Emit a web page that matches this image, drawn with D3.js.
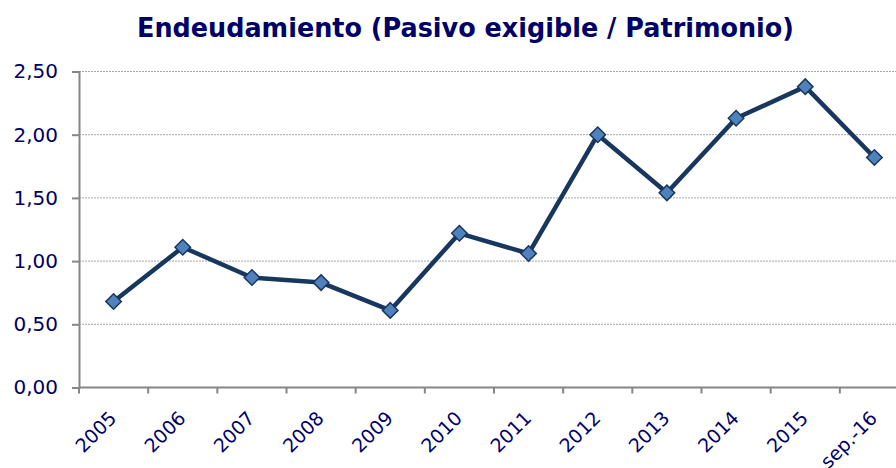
<!DOCTYPE html>
<html><head><meta charset="utf-8">
<script src="https://cdn.jsdelivr.net/npm/d3@7"></script>
<style>body{margin:0;background:#fff;} svg{display:block;}</style>
</head><body>
<svg id="c" width="896" height="468"></svg>
<script>
const categories = ["2005","2006","2007","2008","2009","2010","2011","2012","2013","2014","2015","sep.-16"];
const values = [0.68,1.11,0.87,0.83,0.61,1.22,1.06,2.00,1.54,2.13,2.38,1.82];
const yTicks = [0,0.5,1,1.5,2,2.5];
const title = "Endeudamiento (Pasivo exigible / Patrimonio)";

const svg = d3.select("#c");
const navy = "#000066";
const font = "DejaVu Sans, Verdana, sans-serif";
const x = d3.scaleBand().domain(categories).range([79, 909]);
const y = d3.scaleLinear().domain([0, 2.5]).range([387.5, 71.5]);
const fmt = v => d3.format(".2f")(v).replace(".", ",");

// gridlines
svg.append("g").selectAll("line").data(yTicks.filter(d => d > 0)).join("line")
  .attr("x1", 79).attr("x2", 896)
  .attr("y1", d => y(d)).attr("y2", d => y(d))
  .attr("stroke", "#a6a6a6").attr("stroke-width", 1).attr("stroke-dasharray", "2,1");

// y axis
const ya = svg.append("g").attr("transform", "translate(79,0)")
  .call(d3.axisLeft(y).tickValues(yTicks).tickFormat(fmt).tickSize(7).tickPadding(14));
ya.select(".domain").attr("stroke", "#868686").attr("stroke-width", 2);
ya.selectAll(".tick line").attr("stroke", "#868686").attr("stroke-width", 2);
ya.selectAll("text").attr("fill", navy).style("font-family", font).style("font-size", "20px");

// x axis
const xa = svg.append("g").attr("transform", "translate(0,387.5)");
xa.append("line").attr("x1", 79).attr("x2", 896).attr("stroke", "#868686").attr("stroke-width", 2);
xa.selectAll(".tk").data(categories).join("line").attr("class", "tk")
  .attr("x1", d => x(d)).attr("x2", d => x(d)).attr("y1", 0).attr("y2", 6)
  .attr("stroke", "#868686").attr("stroke-width", 2);
xa.selectAll("text").data(categories).join("text")
  .attr("transform", d => `translate(${x(d) + x.bandwidth()/2 + 4},32) rotate(-45)`)
  .attr("text-anchor", "end")
  .attr("fill", navy).style("font-family", font).style("font-size", "19px")
  .text(d => d);

// line
const line = d3.line().x((d, i) => x(categories[i]) + x.bandwidth()/2).y(d => y(d));
svg.append("path").datum(values).attr("d", line)
  .attr("fill", "none").attr("stroke", "#17375E").attr("stroke-width", 4.5).attr("stroke-linejoin", "round");

// markers
svg.append("g").selectAll("path").data(values).join("path")
  .attr("d", d3.symbol(d3.symbolSquare, 120)())
  .attr("transform", (d, i) => `translate(${x(categories[i]) + x.bandwidth()/2},${y(d)}) rotate(45)`)
  .attr("fill", "#4F81BD").attr("stroke", "#17375E").attr("stroke-width", 1.5);

// title
svg.append("text").attr("x", 465.5).attr("y", 37).attr("text-anchor", "middle")
  .attr("fill", navy).style("font-family", font)
  .attr("textLength", 657).attr("lengthAdjust", "spacingAndGlyphs")
  .style("font-weight", "bold").style("font-size", "26px").text(title);
</script>
</body></html>
